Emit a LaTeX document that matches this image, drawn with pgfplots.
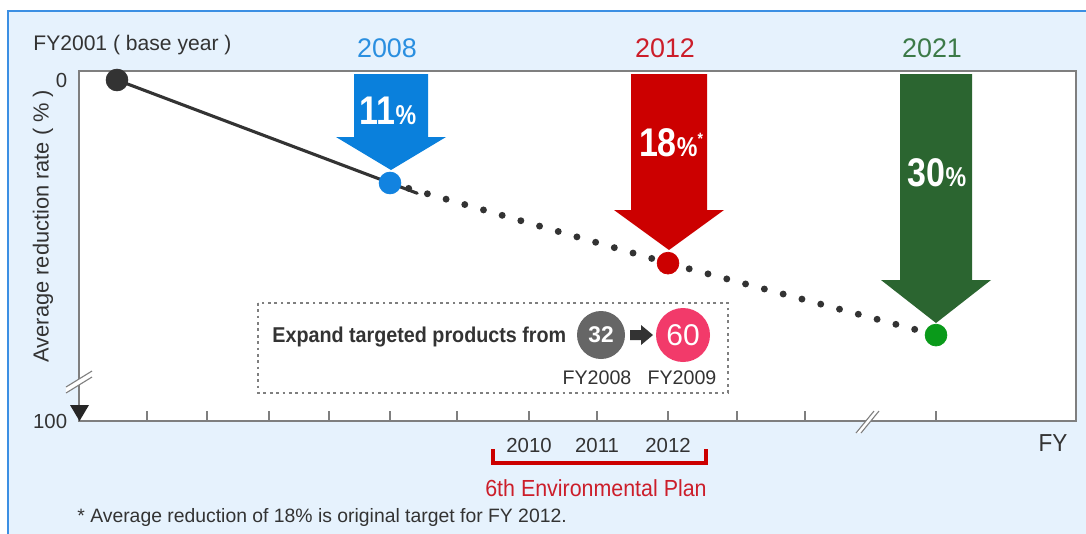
\documentclass[border=0pt]{standalone}
\usepackage{pgfplots}
\pgfplotsset{compat=1.18}
\usepackage{fontspec}
\setmainfont{Liberation Sans}
\newfontfamily\condb{Liberation Sans}[FakeStretch=0.85]
\newfontfamily\cond{Liberation Sans}[FakeStretch=0.92]

\definecolor{bgblue}{HTML}{E6F2FD}
\definecolor{frameblue}{HTML}{3C8FE3}
\definecolor{axisgray}{HTML}{7F7F7F}
\definecolor{txt}{HTML}{333333}
\definecolor{arrblue}{HTML}{0A80DC}
\definecolor{arrred}{HTML}{CC0000}
\definecolor{arrgreen}{HTML}{2B6530}
\definecolor{ptgreen}{HTML}{0A9A1A}
\definecolor{ptblue}{HTML}{1283E0}
\definecolor{yrblue}{HTML}{2A8FE0}
\definecolor{yrred}{HTML}{CC1E2A}
\definecolor{yrgreen}{HTML}{3C7A48}
\definecolor{pink}{HTML}{F23A6A}
\definecolor{circgray}{HTML}{666666}
\definecolor{dotc}{HTML}{333333}

% x = pixel offset from the left axis line, y = position on the (schematic) reduction scale
\pgfplotstableread{
x y
38 0
311 30.2
}\solidpart
\pgfplotstableread{
x y
311 30.2
589 53.7
857 74.8
}\targetpart

\begin{document}
\begin{tikzpicture}
% 1 px of the reference = 0.55pt
\begin{scope}[x=0.55pt,y=-0.55pt]
  \fill[white] (0,0) rectangle (1086,533);
  \begin{scope}
    \clip (0,0) rectangle (1086,533);
    \fill[bgblue] (8,11) rectangle (1100,545);
    \draw[frameblue,line width=1.1pt] (8,545)--(8,11)--(1100,11);
  \end{scope}
  \fill[white] (79,71) rectangle (1076,421);
  % target arrows
  \fill[arrblue] (354,74)--(428,74)--(428,137)--(446,137)--(391,170)--(336,137)--(354,137)--cycle;
  \fill[arrred] (631,74)--(707,74)--(707,210)--(724,210)--(669,250)--(614,210)--(631,210)--cycle;
  \fill[arrgreen] (900,74)--(972,74)--(972,280)--(991,280)--(936,323)--(881,280)--(900,280)--cycle;
  \node[text=white] at (388,111) {\condb\bfseries\fontsize{22}{22}\selectfont 11\fontsize{15}{15}\selectfont\%};
  \node[text=white] at (671,143) {\condb\bfseries\fontsize{22}{22}\selectfont 18\fontsize{15}{15}\selectfont\%\raisebox{0.45em}{\fontsize{9}{9}\selectfont*}};
  \node[text=white] at (937,173) {\condb\bfseries\fontsize{22}{22}\selectfont 30\fontsize{15}{15}\selectfont\%};
  % products box
  \draw[axisgray,line width=0.6pt,dash pattern=on 1.5pt off 2pt] (258,303) rectangle (728,393);
  \node[anchor=west,text=txt,inner sep=0pt] at (272,337) {\cond\bfseries\fontsize{11.8}{13}\selectfont Expand targeted products from};
  \fill[circgray] (601,335) circle (24);
  \fill[pink] (683,335) circle (27);
  \fill[dotc] (630,330)--(641,330)--(641,325)--(653,335)--(641,345)--(641,340)--(630,340)--cycle;
  \node[text=white] at (601,335) {\bfseries\fontsize{12.5}{13}\selectfont 32};
  \node[text=white] at (683,335) {\fontsize{16.5}{17}\selectfont 60};
  \node[text=txt] at (597,378) {\fontsize{10.8}{12}\selectfont FY2008};
  \node[text=txt] at (682,378) {\fontsize{10.8}{12}\selectfont FY2009};
\end{scope}

\begin{axis}[
  at={(43.45pt,-44pt)}, anchor=origin,
  scale only axis, width=548.35pt, height=192.5pt,
  xmin=0, xmax=997, ymin=-2.64, ymax=100, y dir=reverse,
  axis line style={draw=axisgray,line width=0.85pt},
  xtick={68,128,190,250,311,378,450,518,589,658,726,857},
  xticklabels={,,,,,,2010,2011,2012,,,},
  xtick pos=left, tick align=inside, major tick length=5.5pt,
  x tick style={draw=axisgray,line width=0.7pt},
  ytick={0,100}, yticklabels={0,100}, y tick style={draw=none},
  ticklabel style={font=\fontsize{11.2}{13}\selectfont,text=txt},
  xticklabel style={yshift=-6pt},
  yticklabel style={xshift=-3pt},
  clip=false,
]
\addplot[dotc,line width=3.8pt,line cap=round,dash pattern=on 0pt off 10.7pt] table[x=x,y=y] {\targetpart};
\addplot[dotc,line width=1.7pt,line cap=round,shorten >=-16pt] table[x=x,y=y] {\solidpart};
\addplot[only marks,mark=*,mark size=6pt,color=dotc] coordinates {(38,0)};
\addplot[only marks,mark=*,mark size=6pt,color=ptblue] coordinates {(311,30.2)};
\addplot[only marks,mark=*,mark size=6pt,color=arrred] coordinates {(589,53.7)};
\addplot[only marks,mark=*,mark size=6pt,color=ptgreen] coordinates {(857,74.8)};
\end{axis}

\begin{scope}[x=0.55pt,y=-0.55pt]
  % axis breaks
  \fill[white] (66,393)--(92,377)--(92,371)--(66,387)--cycle;
  \draw[axisgray,line width=0.6pt] (66,393)--(92,377) (66,387)--(92,371);
  \fill[white] (856,433)--(874,411)--(879,411)--(861,433)--cycle;
  \draw[axisgray,line width=0.6pt] (856,433)--(874,411) (861,433)--(879,411);
  \fill[black!85] (70,405)--(89,405)--(79.5,421)--cycle;
  % texts
  \node[anchor=west,text=txt,inner sep=0pt] at (33,45) {\fontsize{11.6}{13}\selectfont FY2001 ( base year )};
  \node[text=yrblue] at (387,48) {\fontsize{14.8}{16}\selectfont 2008};
  \node[text=yrred] at (665,48) {\fontsize{14.8}{16}\selectfont 2012};
  \node[text=yrgreen] at (932,48) {\fontsize{14.8}{16}\selectfont 2021};
  \node[rotate=90,text=txt] at (43,226) {\fontsize{12}{13}\selectfont Average reduction rate ( \% )};
  \node[text=txt] at (1053,443) {\cond\fontsize{13.5}{14}\selectfont FY};
  \draw[arrred,line width=2.6pt] (493,449)--(493,463)--(706,463)--(706,449);
  \node[text=yrred] at (596,488) {\cond\fontsize{12.8}{14}\selectfont 6th Environmental Plan};
  \node[anchor=west,text=txt,inner sep=0pt] at (77,517) {\fontsize{10.65}{12}\selectfont * Average reduction of 18\% is original target for FY 2012.};
  \pgfresetboundingbox
  \path[use as bounding box] (0,0) rectangle (1086,533);
\end{scope}
\end{tikzpicture}
\end{document}
